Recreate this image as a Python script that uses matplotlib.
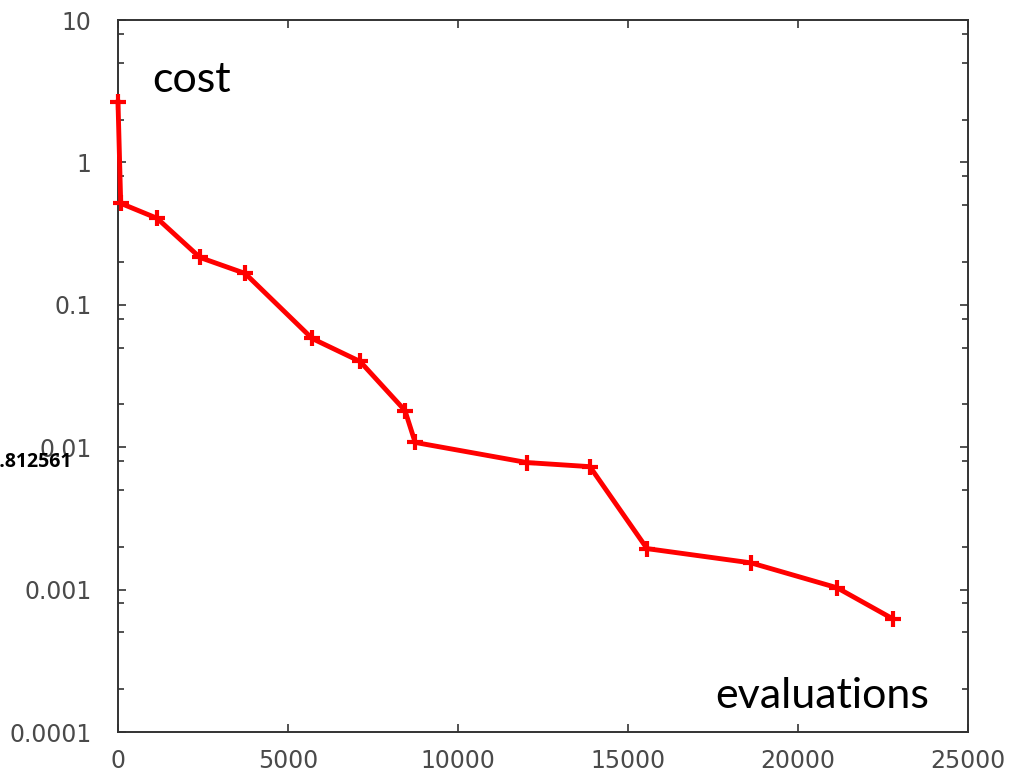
import matplotlib
matplotlib.use('Agg')
import matplotlib.pyplot as plt
from matplotlib.ticker import FixedLocator, NullFormatter

# data
evals = [0, 80, 1150, 2410, 3740, 5710, 7120, 8440, 8740, 12030, 13880, 15560, 18620, 21150, 22790]
cost = [2.65, 0.516, 0.405, 0.215, 0.166, 0.058, 0.040, 0.0181, 0.0108, 0.0078, 0.0073,
        0.00194, 0.00154, 0.00103, 0.000623]
x_ticks = [0, 5000, 10000, 15000, 20000, 25000]
y_ticks = [1e-4, 1e-3, 1e-2, 1e-1, 1, 10]
y_tick_labels = ['0.0001', '0.001', '0.01', '0.1', '1', '10']
y_minor = [m * 10.0**e for e in range(-4, 1) for m in (2, 5, 8)]

fig = plt.figure(figsize=(10.09, 7.72), dpi=100)
ax = fig.add_axes([118/1009, 1-732/772, 850/1009, 712/772])

ax.plot(evals, cost, color='#ff0000', lw=3.5, marker='+', ms=11, mew=3, clip_on=False, zorder=3)

ax.set_yscale('log')
ax.set_xlim(0, 25000)
ax.set_ylim(1e-4, 10)

ax.xaxis.set_major_locator(FixedLocator(x_ticks))
ax.set_xticklabels([str(t) for t in x_ticks])
ax.yaxis.set_major_locator(FixedLocator(y_ticks))
ax.yaxis.set_minor_locator(FixedLocator(y_minor))
ax.yaxis.set_minor_formatter(NullFormatter())
ax.set_yticklabels(y_tick_labels)

ax.tick_params(which='both', direction='in', top=True, right=True, color='#333333',
               labelcolor='#4a4a4a', labelsize=17)
ax.tick_params(axis='x', which='major', length=5.5, width=1.2, pad=12)
ax.tick_params(axis='y', which='major', length=5.5, width=1.2, pad=19)
ax.tick_params(which='minor', length=4, width=1.2)
ax.xaxis.set_tick_params(which='minor', bottom=False, top=False)

for s in ax.spines.values():
    s.set_color('#333333')
    s.set_linewidth(1.4)

fig.text(152/1009, 1-92/772, 'cost', family='Lato', fontsize=31, color='black', va='baseline')
fig.text(715/1009, 1-708/772, 'evaluations', family='Lato', fontsize=31, color='black', va='baseline')
fig.text(72/1009, 1-467/772, '0.812561', family='Open Sans', fontsize=14, fontweight='bold',
         color='black', ha='right', va='baseline')

fig.savefig('out.png', dpi=100)
